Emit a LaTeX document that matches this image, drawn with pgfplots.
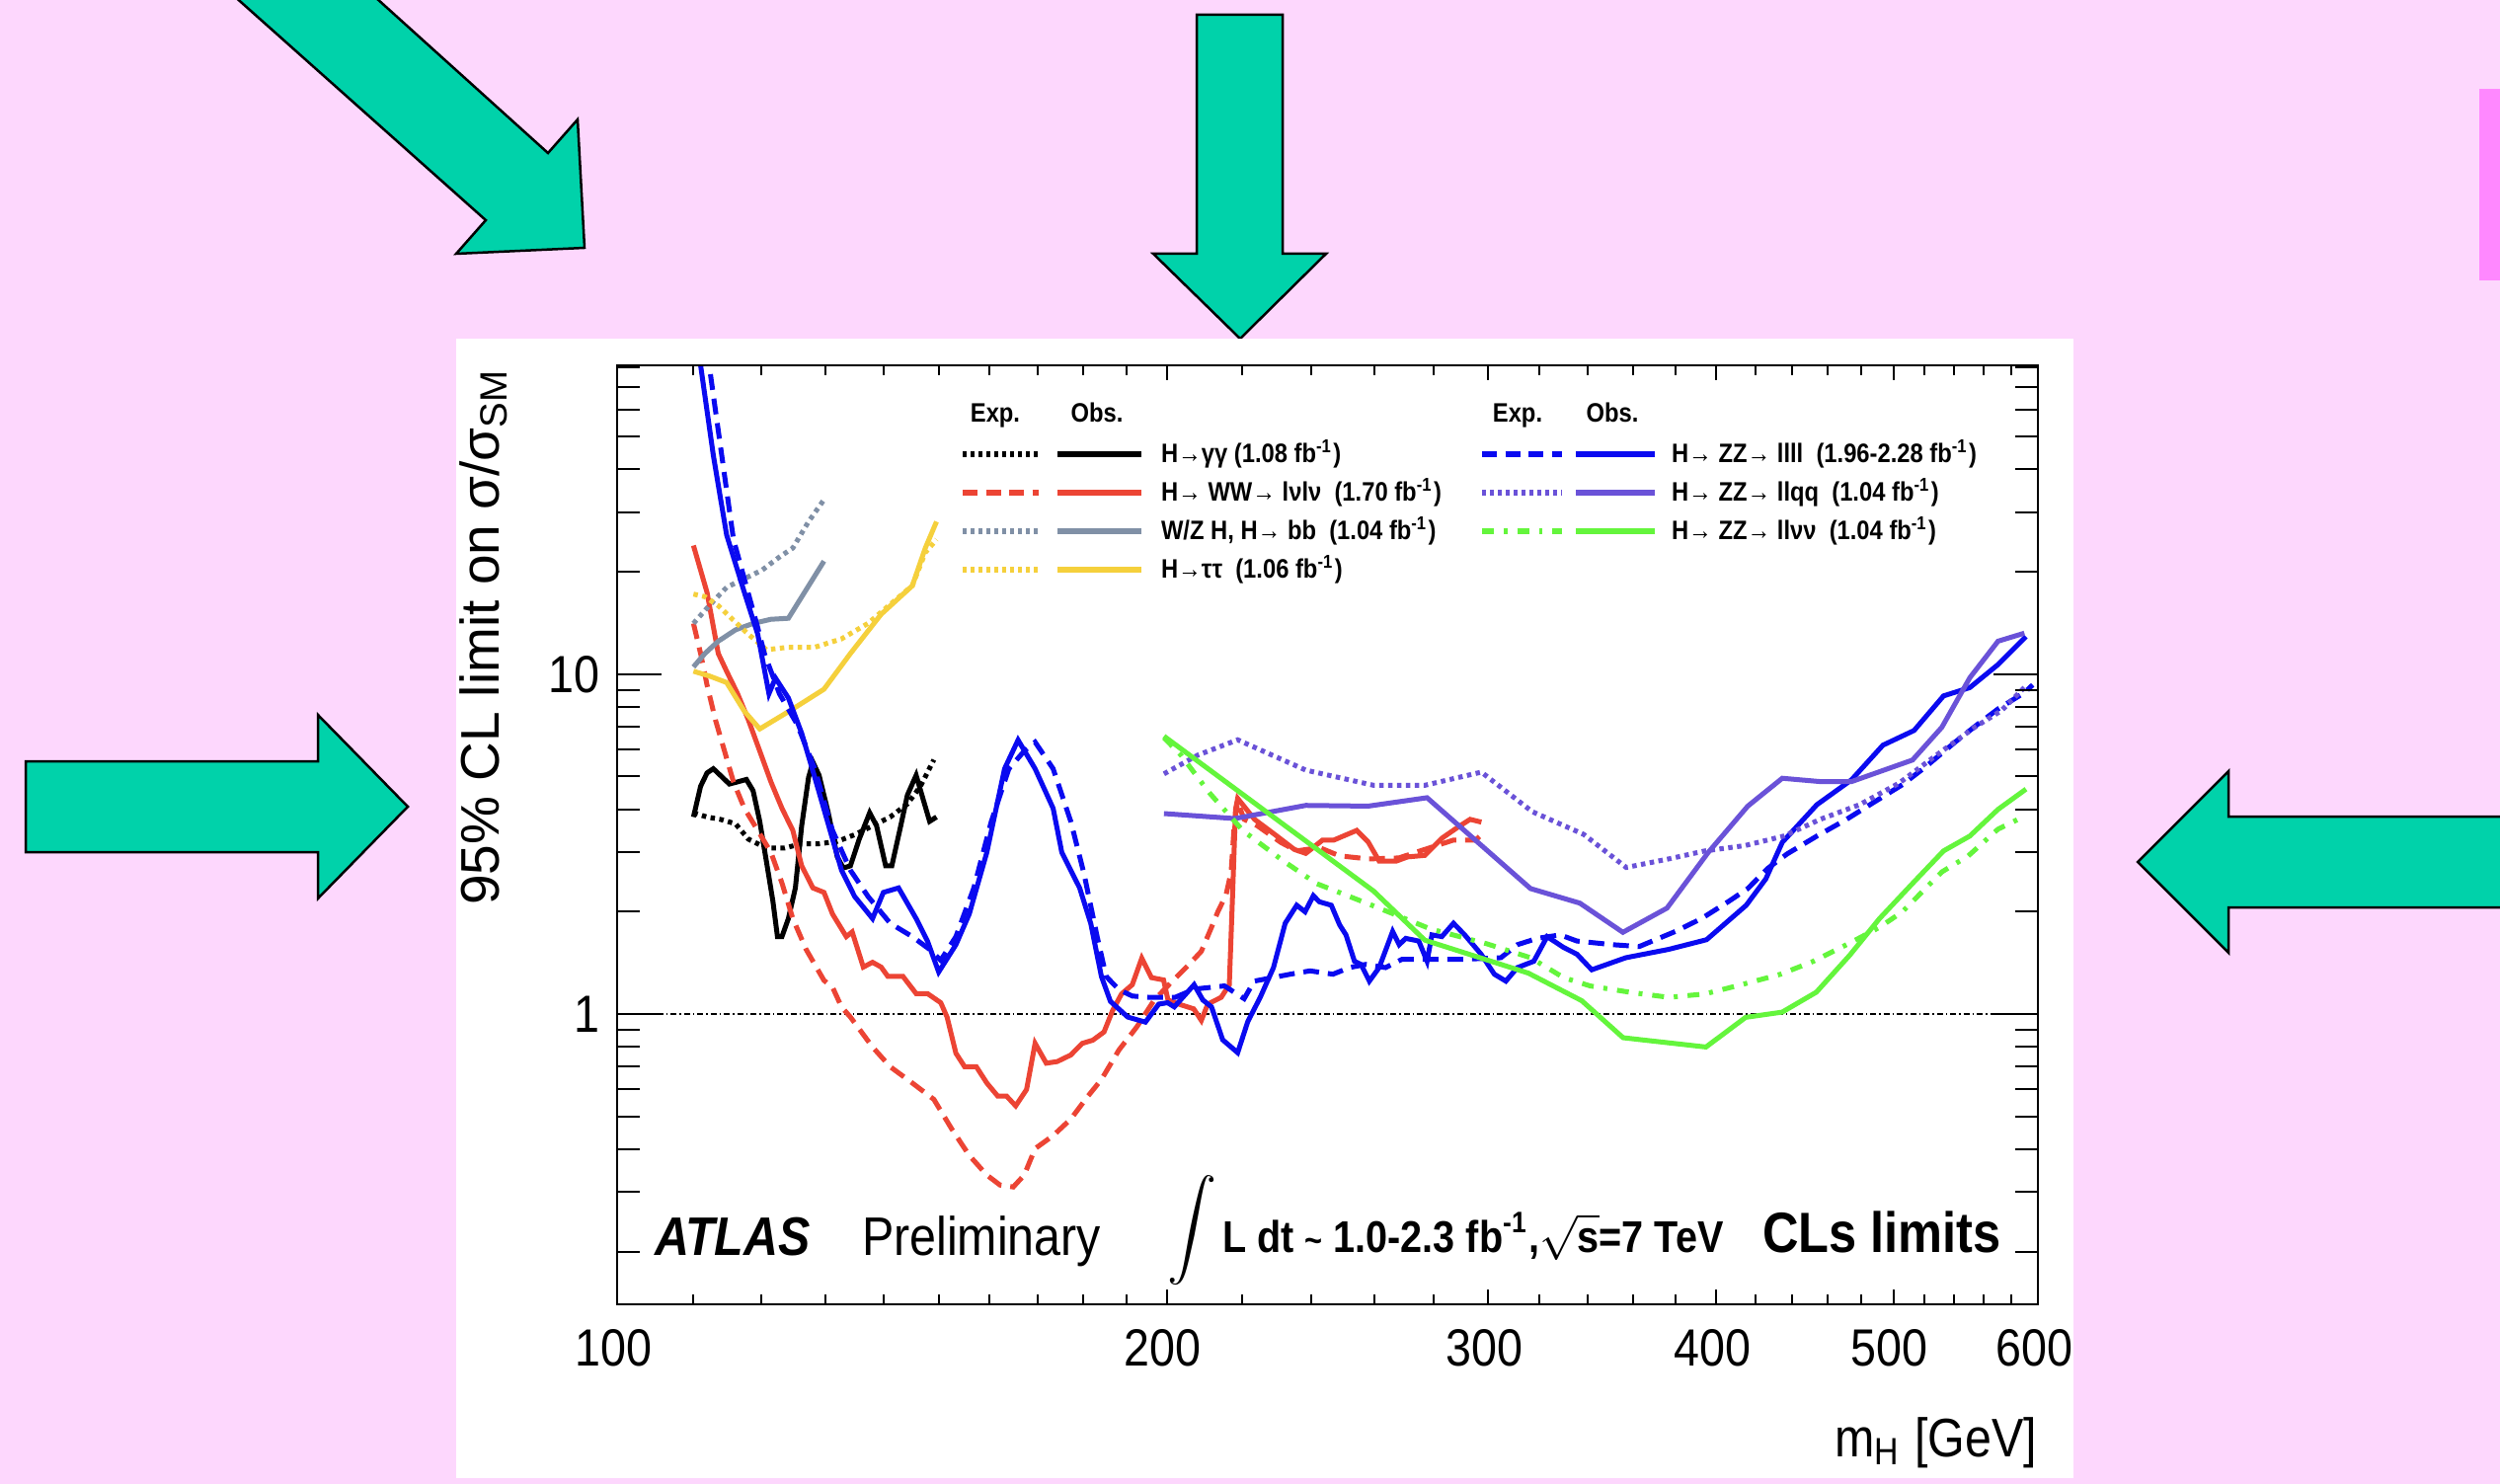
\documentclass[border=0pt]{standalone}
\usepackage{pgfplots}
\pgfplotsset{compat=1.18}
\usepackage{fontspec}
\setmainfont{Liberation Sans}[FakeStretch=0.88]
\newfontfamily\ylabfont{Liberation Sans}
\definecolor{bgpink}{RGB}{253,215,253}
\definecolor{stripe}{RGB}{255,136,255}
\definecolor{arrowgreen}{RGB}{0,210,170}
\definecolor{cred}{RGB}{236,68,52}
\definecolor{cgrey}{RGB}{128,144,166}
\definecolor{cyellow}{RGB}{245,208,60}
\definecolor{cblue}{RGB}{10,10,240}
\definecolor{cpurple}{RGB}{106,82,216}
\definecolor{cgreen}{RGB}{100,245,60}
\tikzset{
  sol/.style={line width=1pt},
  dotl/.style={line width=1pt, dash pattern=on 0.9pt off 0.9pt},
  dashl/.style={line width=1pt, dash pattern=on 3.2pt off 1.8pt},
  dashdotl/.style={line width=1pt, dash pattern=on 2.4pt off 2pt on 0.8pt off 2pt},
  legsol/.style={line width=1.3pt},
  legdot/.style={line width=1.3pt, dash pattern=on 0.8pt off 0.8pt},
  legdash/.style={line width=1.3pt, dash pattern=on 3pt off 1.7pt},
  legdashdot/.style={line width=1.3pt, dash pattern=on 2.4pt off 2pt on 0.7pt off 2pt},
}
\begin{document}
\begin{tikzpicture}
\begin{scope}[x=0.2pt,y=-0.2pt]
\useasboundingbox (0,0) rectangle (2532,1503);
\fill[bgpink] (0,0) rectangle (2532,1503);
\fill[stripe] (2511,90) rectangle (2532,284);
\filldraw[fill=arrowgreen, draw=black, line width=0.5pt] (208,-30) -- (492,223) -- (462,257) -- (592,251) -- (585,121) -- (555,155) -- (350,-30) -- cycle;
\filldraw[fill=arrowgreen, draw=black, line width=0.5pt] (1212,15) -- (1299,15) -- (1299,257) -- (1343,257) -- (1256,343) -- (1168,257) -- (1212,257) -- cycle;
\filldraw[fill=arrowgreen, draw=black, line width=0.5pt] (26,771) -- (322,771) -- (322,724) -- (413,817) -- (322,910) -- (322,863) -- (26,863) -- cycle;
\filldraw[fill=arrowgreen, draw=black, line width=0.5pt] (2560,827) -- (2257,827) -- (2257,781) -- (2165,873) -- (2257,965) -- (2257,919) -- (2560,919) -- cycle;
\fill[white] (462,343) rectangle (2100,1497);
\end{scope}

\begin{axis}[at={(125pt,-264.2pt)}, anchor=south west, width=287.8pt, height=190.2pt, scale only axis,
  xmode=log, ymode=log, xmin=100, xmax=600, ymin=0.14, ymax=81,
  axis line style={line width=0.5pt},
  tick align=inside,
  xtick={100,200,300,400,500,600}, xticklabels={100,200,300,400,500,600},
  minor xtick={110,120,130,140,150,160,170,180,190,220,240,260,280,320,340,360,380,420,440,460,480,520,540,560,580},
  major tick length=3pt, minor tick length=2pt,
  ytick=\empty,
  every tick/.style={black, line width=0.4pt},
  xticklabel style={font=\fontsize{10.6}{12}\selectfont, yshift=-1.5pt, xshift=-0.8pt},
  clip=true]
% y = 1 line
\addplot[black, line width=0.4pt, dash pattern=on 1.2pt off 0.6pt on 0.3pt off 0.6pt] coordinates {(100,1) (600,1)};
% gamma gamma
\addplot[black, dotl] coordinates {(110.1,3.91) (112,3.80) (113.9,3.74) (116.1,3.63) (118,3.27) (120.7,3.08) (123.5,3.08) (126.2,3.17) (129,3.17) (132,3.22) (134.9,3.37) (138,3.58) (141.1,3.80) (144.2,4.15) (146.6,4.68) (149.1,5.60)};
\addplot[black, sol] coordinates {(110.1,3.80) (111.1,4.68) (112,5.12) (112.9,5.27) (114.2,4.97) (115.2,4.75) (116.4,4.82) (117.7,4.90) (118.7,4.54) (119.7,3.69) (120.7,2.82) (121.7,2.15) (122.4,1.69) (123.1,1.69) (124.1,1.91) (125.2,2.35) (126.2,3.58) (127.3,4.97) (128,5.51) (129,5.04) (130.5,3.91) (132,2.90) (133,2.69) (134.2,2.73) (135.7,3.27) (137.5,3.91) (138.7,3.58) (140.3,2.73) (141.4,2.73) (143,3.58) (144.2,4.41) (145.8,5.04) (147.1,4.28) (148.3,3.69) (149.6,3.80)};
% WW
\addplot[cred, dashl] coordinates {(110.1,14.1) (111.1,11.5) (112,9.30) (113.2,7.33) (114.5,5.94) (115.8,4.82) (117.4,4.03) (119.4,3.47) (121.4,2.99) (123.1,2.43) (124.8,1.91) (126.9,1.55) (129.8,1.256) (131.2,1.20) (132.7,1.05) (134.2,0.98) (138,0.80) (141.1,0.70) (145.1,0.627) (149.1,0.561) (152.5,0.459) (155.9,0.384) (159.4,0.336) (162.1,0.314) (164.8,0.31) (167.1,0.336) (169.4,0.402) (173.3,0.439) (177.2,0.491) (181.1,0.574) (184.2,0.642) (188.3,0.784) (192.6,0.917) (196.9,1.10) (201.4,1.25) (205.7,1.40) (208.9,1.53) (211.5,1.79) (213.3,2.0) (215.5,2.24) (216.9,2.62) (217.8,3.66) (218.7,4.2) (220.5,3.74) (224.2,3.58) (230.9,3.20) (235.6,3.02) (242.4,3.09) (248.7,2.92) (258,2.86) (268,2.88) (278.9,3.09) (287.1,3.25) (295.2,3.25) (298,3.4)};
\addplot[cred, sol] coordinates {(110.1,23.9) (112,17.4) (113.6,11.5) (114.8,10.2) (116.4,8.76) (118,7.33) (119.7,5.94) (121.4,4.82) (123.1,4.03) (124.8,3.47) (126.2,2.73) (128,2.35) (129.8,2.28) (131.2,1.97) (133.5,1.69) (134.5,1.745) (136.4,1.375) (138,1.42) (139.5,1.375) (140.7,1.29) (143.4,1.29) (145.8,1.149) (147.9,1.149) (150.4,1.08) (151.6,0.98) (153.3,0.767) (155,0.70) (157.3,0.70) (159.4,0.627) (161.6,0.574) (163.4,0.574) (165.3,0.537) (167.6,0.60) (169.4,0.82) (171.8,0.717) (174.2,0.725) (177.2,0.758) (179.8,0.82) (182.2,0.838) (184.8,0.886) (186.8,1.025) (188.9,1.146) (191.5,1.22) (193.8,1.46) (196.2,1.28) (199.2,1.26) (200.3,1.10) (203,1.07) (206.9,1.036) (208.9,0.958) (210.6,1.07) (214.2,1.12) (216.4,1.22) (217.3,2.24) (218.1,4.0) (218.7,4.31) (223.4,3.74) (229.1,3.38) (234.9,3.05) (238.3,2.97) (243.4,3.25) (246.9,3.25) (254.1,3.47) (257.8,3.21) (261.4,2.82) (267.2,2.82) (271,2.90) (276.9,2.93) (282.9,3.29) (289,3.56) (293.2,3.74) (297.4,3.67)};
% bb
\addplot[cgrey, dotl] coordinates {(110.1,14.1) (112.3,15.9) (114.8,18.0) (117.4,19.1) (120,20.2) (122.7,22.1) (124.8,23.5) (127.3,28.1) (129.8,32.6)};
\addplot[cgrey, sol] coordinates {(110.1,10.5) (111.7,11.5) (113.6,12.5) (116.1,13.5) (118.7,14.1) (121.4,14.5) (124.1,14.6) (126.9,17.7) (129.8,21.5)};
% tautau
\addplot[cyellow, dotl] coordinates {(110.1,17.2) (111.7,16.9) (113.6,15.9) (115.5,14.6) (118,13.1) (120.7,11.8) (124.1,12.0) (128.3,12.0) (132.7,12.7) (137.2,14.1) (141.8,16.4) (145.1,18.2) (147.5,22.8) (149.6,24.9)};
\addplot[cyellow, sol] coordinates {(110.1,10.2) (112.3,9.88) (114.8,9.45) (117.4,7.78) (119.7,6.90) (124.8,7.90) (129.8,9.03) (134.2,11.5) (139.5,15.0) (145.1,18.2) (147.5,23.5) (149.6,28.1)};
% llll
\addplot[cblue, dashl] coordinates {(112,90) (115.8,24.9) (119.4,13.7) (120.4,11.5) (122.7,8.76) (125.5,7.11) (128.3,5.27) (131.2,3.47) (134.2,2.65) (137.2,2.22) (141.1,1.85) (145.1,1.69) (148.3,1.55) (150.4,1.44) (153.3,1.69) (156.8,2.35) (160.3,3.69) (163.9,5.27) (167.1,5.94) (169.4,6.31) (173.3,5.27) (177.2,3.69) (180.2,2.58) (183.2,1.69) (185.3,1.29) (188.3,1.18) (191.5,1.13) (195.6,1.12) (202.1,1.12) (207.2,1.185) (215.1,1.21) (220.5,1.11) (223.3,1.25) (233.7,1.31) (239.6,1.34) (246.6,1.31) (251.8,1.37) (257,1.40) (263.5,1.37) (269.1,1.45) (279.4,1.45) (291.2,1.45) (304.8,1.465) (311.2,1.60) (319.1,1.67) (328.5,1.71) (335.5,1.64) (351,1.60) (362.9,1.58) (379.8,1.75) (392.6,1.91) (405.9,2.14) (416.1,2.34) (426.6,2.68) (437.3,2.96) (454,3.34) (471.3,3.74) (487.2,4.18) (505.7,4.73) (520.8,5.34) (540.4,6.31) (556.4,7.14) (570.5,7.90) (589.8,8.82) (596,9.3)};
\addplot[cblue, sol] coordinates {(110.9,95) (111.1,81) (112.9,44) (114.8,25.7) (117.4,17.4) (119.4,13.1) (121.1,8.76) (122.1,9.74) (124.1,8.51) (126.2,6.70) (128.3,4.97) (132.7,2.65) (134.9,2.22) (138,1.91) (139.9,2.28) (142.6,2.35) (145.8,1.91) (147.9,1.64) (150,1.33) (153.3,1.60) (155.9,1.97) (159.4,2.99) (163,5.27) (165.8,6.40) (169.4,5.27) (173.3,4.03) (175.2,2.99) (179.2,2.35) (181.7,1.85) (184.2,1.29) (186.3,1.09) (190.4,0.98) (194.7,0.947) (198,1.07) (200.2,1.08) (201.9,1.05) (207,1.22) (209.3,1.10) (211.6,1.05) (214.6,0.84) (218.7,0.77) (221.5,0.95) (225,1.12) (228.8,1.37) (232.2,1.85) (235.6,2.09) (238.1,2.0) (240.6,2.23) (242.4,2.14) (246.1,2.09) (248.7,1.83) (250.7,1.71) (253.4,1.43) (255.5,1.40) (258.2,1.25) (261.4,1.37) (265.9,1.75) (268.1,1.60) (270.3,1.67) (274.8,1.64) (277.7,1.43) (279.4,1.71) (282.9,1.69) (287.1,1.85) (291.2,1.71) (297.3,1.50) (302.3,1.31) (306.7,1.25) (311.2,1.37) (317.7,1.43) (323.1,1.69) (329.9,1.57) (335.5,1.50) (341.8,1.35) (356.8,1.465) (376.6,1.55) (395.1,1.655) (415.3,2.09) (425.7,2.50) (434.6,3.20) (454,4.13) (474.3,4.89) (493.4,6.18) (513.2,6.83) (532.6,8.63) (550.6,9.13) (570.5,10.67) (591,12.9)};
% llqq
\addplot[cpurple, dotl] coordinates {(199.3,5.09) (208,5.78) (218.7,6.41) (238.3,5.22) (259.6,4.71) (276.9,4.71) (297.4,5.15) (317.1,3.94) (338.3,3.38) (357,2.70) (376.6,2.86) (394.2,3.02) (414.5,3.13) (435.5,3.34) (455.9,3.74) (479.1,4.13) (503.6,4.78) (529.3,5.84) (554,6.98) (572.9,7.81) (589.8,9.13)};
\addplot[cpurple, sol] coordinates {(199.3,3.89) (217.9,3.76) (238.3,4.11) (257.8,4.09) (277.7,4.33) (316.4,2.34) (336.7,2.12) (355.5,1.74) (375.8,2.05) (395.9,2.99) (416.1,4.09) (434.6,4.94) (455.9,4.83) (474.3,4.83) (512.2,5.59) (531.5,6.98) (550.6,9.76) (570.5,12.5) (589.8,13.2)};
% llnunu
\addplot[cgreen, dashdotl] coordinates {(199.3,6.5) (203.6,5.78) (211,4.48) (220.2,3.46) (231.7,2.82) (241.6,2.42) (259.6,2.08) (278.9,1.78) (299.4,1.61) (316.4,1.465) (329.9,1.28) (341.1,1.21) (358.4,1.16) (376.6,1.12) (394.2,1.146) (412.7,1.22) (433.7,1.31) (452,1.43) (471.3,1.6) (491.3,1.8) (505.7,2.0) (531.5,2.62) (549.5,2.92) (570.5,3.50) (589.8,3.82)};
\addplot[cgreen, sol] coordinates {(199.3,6.57) (259.6,2.30) (276.9,1.65) (315.5,1.32) (337.5,1.095) (355.6,0.852) (394.8,0.80) (415,0.978) (434.5,1.013) (453.7,1.16) (473.2,1.49) (491.3,1.91) (513.2,2.45) (532.6,3.02) (550.6,3.34) (570.5,4.0) (591,4.59)};
\end{axis}

\begin{axis}[at={(125pt,-264.2pt)}, anchor=south west, width=287.8pt, height=190.2pt, scale only axis,
  xmin=0, xmax=1, ymode=log, ymin=0.14, ymax=81,
  axis line style={line width=0.5pt},
  tick align=inside,
  xtick=\empty,
  ytick={1,10}, yticklabels={1,10},
  minor ytick={0.2,0.3,0.4,0.5,0.6,0.7,0.8,0.9,2,3,4,5,6,7,8,9,20,30,40,50,60,70,80},
  major tick length=9pt, minor tick length=4.6pt,
  every tick/.style={black, line width=0.4pt},
  yticklabel style={font=\fontsize{10.6}{12}\selectfont}]
\end{axis}

\begin{scope}[x=0.2pt,y=-0.2pt]
% legend headers
\node[anchor=base, inner sep=0pt, font=\fontsize{5.4}{6}\selectfont\bfseries] at (1008,428) {Exp.};
\node[anchor=base, inner sep=0pt, font=\fontsize{5.4}{6}\selectfont\bfseries] at (1111,428) {Obs.};
\node[anchor=base, inner sep=0pt, font=\fontsize{5.4}{6}\selectfont\bfseries] at (1537,428) {Exp.};
\node[anchor=base, inner sep=0pt, font=\fontsize{5.4}{6}\selectfont\bfseries] at (1633,428) {Obs.};
% left legend
\draw[black, legdot] (975,460) -- (1052,460);
\draw[black, legsol] (1071,460) -- (1156,460);
\draw[cred, legdash] (975,499) -- (1052,499);
\draw[cred, legsol] (1071,499) -- (1156,499);
\draw[cgrey, legdot] (975,538) -- (1052,538);
\draw[cgrey, legsol] (1071,538) -- (1156,538);
\draw[cyellow, legdot] (975,577) -- (1052,577);
\draw[cyellow, legsol] (1071,577) -- (1156,577);
\begin{scope}[every node/.style={anchor=base west, inner sep=0pt, font=\fontsize{5.4}{6}\selectfont\bfseries}]
\node at (1175,469) {H→γγ (1.08 fb\textsuperscript{-1})};
\node at (1175,508) {H→ WW→ lνlν\ \ (1.70 fb\textsuperscript{-1})};
\node at (1175,547) {W/Z H, H→ bb\ \ (1.04 fb\textsuperscript{-1})};
\node at (1175,586) {H→ττ\ \ (1.06 fb\textsuperscript{-1})};
\node at (1692,469) {H→ ZZ→ llll\ \ (1.96-2.28 fb\textsuperscript{-1})};
\node at (1692,508) {H→ ZZ→ llqq\ \ (1.04 fb\textsuperscript{-1})};
\node at (1692,547) {H→ ZZ→ llνν\ \ (1.04 fb\textsuperscript{-1})};
\end{scope}
% right legend
\draw[cblue, legdash] (1501,460) -- (1582,460);
\draw[cblue, legsol] (1596,460) -- (1676,460);
\draw[cpurple, legdot] (1501,499) -- (1582,499);
\draw[cpurple, legsol] (1596,499) -- (1676,499);
\draw[cgreen, legdashdot] (1501,538) -- (1582,538);
\draw[cgreen, legsol] (1596,538) -- (1676,538);
% annotations
\node[anchor=base west, inner sep=0pt] at (662,1271) {\fontsize{11}{13}\selectfont\bfseries\itshape ATLAS};
\node[anchor=base west, inner sep=0pt] at (872,1271) {\fontsize{11}{13}\selectfont Preliminary};
\node[anchor=center, inner sep=0pt] at (1207,1246) {\fontsize{10}{12}\selectfont$\displaystyle\int$};
\node[anchor=base west, inner sep=0pt] at (1237,1268) {\fontsize{9}{11}\selectfont\bfseries L dt {\scriptsize\textasciitilde} 1.0-2.3 fb\textsuperscript{-1},$\sqrt{\mbox{s}}$=7 TeV};
\node[anchor=base west, inner sep=0pt] at (1784,1268) {\fontsize{11.5}{13}\selectfont\bfseries CLs limits};
% axis titles
\node[anchor=base east, inner sep=0pt] at (2064,1475) {\fontsize{11}{13}\selectfont m\textsubscript{H} [GeV]};
\node[rotate=90, anchor=base east, inner sep=0pt] at (505,372) {\ylabfont\fontsize{11}{13}\selectfont 95\% CL limit on σ/σ\textsubscript{SM}};
\end{scope}
\end{tikzpicture}
\end{document}
